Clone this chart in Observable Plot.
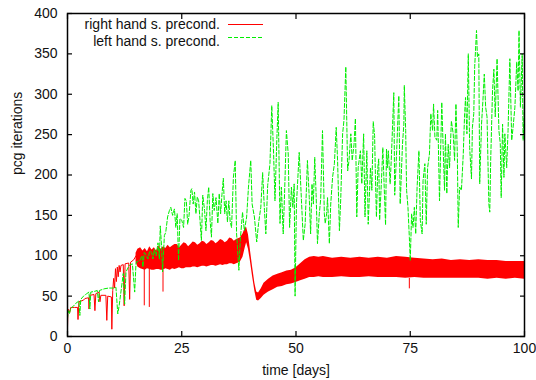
<!DOCTYPE html>
<html><head><meta charset="utf-8">
<script src="https://cdn.jsdelivr.net/npm/d3@7"></script>
<script src="https://cdn.jsdelivr.net/npm/@observablehq/plot@0.6"></script>
<style>
body{margin:0;background:#fff;}
#wrap{position:relative;width:536px;height:380px;font-family:"Liberation Sans",Arial,sans-serif;}
#legend{position:absolute;left:0;top:0;width:300px;height:50px;font-size:14px;line-height:16px;color:#111;}
#legend .row{position:absolute;right:80px;white-space:nowrap;}
#legend svg{position:absolute;left:0;top:0;}
</style></head><body><div id="wrap"></div>
<script>
// axis ticks
const xTicks = [0, 25, 50, 75, 100];
const yTicks = [0, 50, 100, 150, 200, 250, 300, 350, 400];
const seriesNames = ["right hand s. precond.", "left hand s. precond."];
const seriesColors = ["#ff0000", "#00ee00"];

// right hand preconditioning: sparse early part [day, iterations]
const redEarly = [[0.0,11],[0.1,34],[0.5,30],[0.7,36],[1.5,36],[2.2,36],[2.3,21],[2.5,43],[3.5,45],[3.8,47],[4.6,48],[4.7,34],[4.9,51],[5.8,52],[6.0,32],[6.2,53],[6.9,55],[7.1,43],[7.3,51],[8.4,51],[8.6,20],[8.8,50],[9.6,49],[9.7,9],[9.9,57],[10.1,72],[10.3,60],[10.5,84],[10.7,68],[10.9,86],[11.1,74],[11.3,88],[11.5,80],[11.7,88],[12.2,89],[12.4,38],[12.6,90],[13.4,91],[13.6,46],[13.8,92],[14.5,95],[15.0,100]];
// right hand preconditioning: dense oscillation band [day, low, high]
const redBand = [[15.0,92,103],[15.4,86,108],[16,84,110],[16.5,83,106],[17,82,109],[17.5,84,105],[18,83,111],[18.5,82,107],[19,82,110],[19.5,83,106],[20,83,112],[20.5,82,108],[21,82,111],[21.5,84,109],[22,83,113],[22.5,82,110],[23,84,112],[23.5,83,114],[24,84,114],[24.5,85,110],[25,84,113],[25.5,84,116],[26,85,115],[26.5,85,111],[27,85,114],[27.5,86,117],[28,86,116],[28.5,85,113],[29,86,115],[29.5,87,118],[30,87,117],[30.5,86,114],[31,87,116],[31.5,88,119],[32,88,118],[32.5,87,115],[33,88,117],[33.5,89,120],[34,88,119],[34.5,89,116],[35,89,118],[35.5,90,122],[36,90,121],[36.5,89,118],[37,90,120],[37.8,92,122],[38.4,98,127],[38.9,110,134],[39.2,116,135],[39.6,108,126],[40.0,94,108],[40.5,74,86],[41.0,56,66],[41.4,45,55],[41.8,44,54],[42.4,47,59],[43.0,51,66],[44.0,55,71],[45.0,58,75],[46.0,61,77],[47.0,62,79],[48.0,64,81],[49.0,65,82],[50.0,67,85],[51.0,69,90],[52.0,71,95],[53.0,73,98],[54,73,99],[55,74,98],[56,73,99],[58,73,97],[60,74,98],[62,73,97],[64,73,98],[66,74,97],[68,73,98],[70,73,97],[72,73,99],[74,72,98],[76,73,97],[78,72,96],[80,72,95],[82,72,96],[84,72,94],[86,72,95],[88,72,94],[90,72,95],[92,71,94],[94,72,94],[96,71,93],[98,72,93],[100,71,93]];
// isolated downward dips inside the band [day, min, band low]
const redDips = [[16.8,38,84],[17.9,36,83],[20.9,55,82],[74.8,59,72]];

// left hand preconditioning [day, iterations]
const green = [[0,22],[0.15,32],[0.4,28],[0.7,35],[1.2,37],[1.8,41],[2.5,44],[2.7,26],[2.9,46],[3.5,50],[4.2,53],[4.7,55],[4.9,34],[5.1,55],[6.0,56],[6.5,57],[6.8,43],[7.0,57],[8.0,59],[9.0,60],[10.0,60],[10.6,61],[11.0,28],[11.3,38],[11.8,60],[12.2,78],[12.5,40],[12.8,80],[13.5,88],[14.2,90],[14.7,55],[15.0,92],[15.8,94],[16.3,100],[16.5,86],[16.8,104],[17.3,100],[17.6,96],[18.0,106],[18.4,104],[18.7,96],[19.0,108],[19.4,100],[19.8,116],[20.1,96],[20.3,137],[20.6,110],[20.8,80],[21.2,125],[21.5,129],[21.9,148],[22.3,156],[22.6,160],[23.0,150],[23.4,158],[23.7,135],[24.0,152],[24.3,94],[24.6,146],[25.0,144],[25.4,135],[25.7,171],[26.0,168],[26.3,139],[26.6,150],[27.0,181],[27.2,183],[27.5,164],[27.8,179],[28.1,152],[28.4,173],[28.7,168],[29.3,119],[29.6,175],[30.0,156],[30.3,131],[30.6,168],[30.9,185],[31.2,144],[31.5,123],[31.8,177],[32.1,156],[32.5,172],[32.9,140],[33.2,177],[33.5,152],[33.8,176],[34.1,196],[34.4,152],[34.7,168],[35.0,142],[35.3,168],[35.6,142],[35.9,135],[36.3,197],[36.7,218],[37.0,127],[37.2,111],[37.5,82],[37.8,119],[38.3,154],[38.7,131],[39.2,148],[39.6,185],[40.1,218],[40.4,164],[40.9,148],[41.4,117],[41.8,140],[42.3,160],[42.7,203],[43.1,156],[43.4,127],[43.8,187],[44.3,214],[44.7,286],[45.1,226],[45.4,168],[45.8,243],[46.1,290],[46.5,140],[46.8,185],[47.2,127],[47.5,177],[47.9,255],[48.3,226],[48.6,135],[49.0,185],[49.3,160],[49.6,189],[49.8,50],[50.1,164],[50.7,228],[51.2,168],[51.6,119],[52.0,139],[52.5,218],[52.9,172],[53.2,127],[53.5,189],[53.8,164],[54.1,222],[54.4,176],[54.7,115],[55.1,152],[55.4,170],[55.8,255],[56.2,152],[56.4,140],[56.7,152],[56.9,172],[57.3,115],[57.6,164],[58.0,197],[58.4,214],[58.8,259],[59.1,218],[59.5,131],[59.8,172],[60.2,251],[60.5,268],[60.9,334],[61.3,205],[61.6,218],[62.0,251],[62.3,218],[62.7,238],[63.0,270],[63.3,148],[63.6,209],[64.1,230],[64.4,189],[64.8,251],[65.1,148],[65.5,230],[65.8,139],[66.3,209],[66.6,181],[66.9,266],[67.2,249],[67.4,193],[67.6,148],[67.9,209],[68.1,220],[68.3,144],[68.7,193],[69.0,234],[69.3,185],[69.6,138],[69.8,232],[70.0,209],[70.2,230],[70.6,189],[70.9,226],[71.4,302],[71.6,175],[72.0,226],[72.5,298],[72.8,164],[73.3,238],[73.6,263],[73.7,311],[74.0,255],[74.2,181],[74.5,160],[74.8,123],[75.0,94],[75.3,152],[75.6,135],[75.9,160],[76.2,127],[76.5,185],[76.9,230],[77.2,144],[77.6,127],[77.8,193],[78.2,214],[78.5,139],[78.8,209],[79.2,226],[79.5,276],[79.9,255],[80.1,288],[80.4,247],[80.8,243],[81.0,280],[81.4,168],[81.6,218],[81.9,290],[82.2,234],[82.5,181],[82.7,251],[83.0,177],[83.3,238],[83.6,209],[84.0,267],[84.4,251],[84.7,218],[85.0,288],[85.3,226],[85.5,135],[85.8,185],[86.2,181],[86.6,226],[86.9,276],[87.1,296],[87.4,251],[87.7,350],[88.0,234],[88.4,195],[88.6,259],[88.9,276],[89.1,334],[89.5,379],[89.7,346],[90.0,350],[90.2,189],[90.6,263],[90.9,292],[91.2,325],[91.5,284],[91.8,272],[92.2,164],[92.4,154],[92.6,218],[93.0,304],[93.3,331],[93.6,272],[94.0,344],[94.4,255],[94.7,239],[94.9,172],[95.2,263],[95.5,197],[95.7,251],[96.1,209],[96.4,255],[96.8,344],[97.2,243],[97.5,259],[97.9,284],[98.3,340],[98.6,304],[98.8,379],[99.1,284],[99.5,350],[99.7,243],[100,290]];

const font = "Liberation Sans, Arial, sans-serif";
const tickLen = 5;
const chart = Plot.plot({
  width: 536, height: 380,
  marginLeft: 67, marginRight: 12, marginTop: 13, marginBottom: 44,
  style: {fontFamily: font, fontSize: "14px", background: "#fff", color: "#111", overflow: "visible"},
  x: {domain: [0, 100]},
  y: {domain: [0, 400]},
  marks: [
    Plot.areaY(redBand, {x: d => d[0], y1: d => d[1], y2: d => d[2], fill: seriesColors[0], curve: "linear"}),
    Plot.line(redEarly, {x: d => d[0], y: d => d[1], stroke: seriesColors[0], strokeWidth: 1}),
    Plot.ruleX(redDips, {x: d => d[0], y1: d => d[1], y2: d => d[2], stroke: seriesColors[0], strokeWidth: 1}),
    Plot.line(green, {x: d => d[0], y: d => d[1], stroke: seriesColors[1], strokeWidth: 1, strokeDasharray: "4,2"}),
    Plot.frame({stroke: "#000", strokeWidth: 1.5}),
    // tick labels
    Plot.axisX(xTicks, {anchor: "bottom", tickSize: 0, tickPadding: 7, label: null, fontSize: 14}),
    Plot.axisY(yTicks, {anchor: "left", tickSize: 0, tickPadding: 10, label: null, fontSize: 14}),
    // inward tick marks on all four sides
    Plot.axisX(xTicks, {anchor: "bottom", tickSize: tickLen, dy: -tickLen, text: null, tickFormat: () => "", label: null, stroke: "#000", strokeWidth: 1.2}),
    Plot.axisX(xTicks, {anchor: "top", tickSize: tickLen, dy: tickLen, text: null, tickFormat: () => "", label: null, stroke: "#000", strokeWidth: 1.2}),
    Plot.axisY(yTicks, {anchor: "left", tickSize: tickLen, dx: tickLen, text: null, tickFormat: () => "", label: null, stroke: "#000", strokeWidth: 1.2}),
    Plot.axisY(yTicks, {anchor: "right", tickSize: tickLen, dx: -tickLen, text: null, tickFormat: () => "", label: null, stroke: "#000", strokeWidth: 1.2}),
    Plot.text(["time [days]"], {frameAnchor: "bottom", dy: 38, fontSize: 14, fill: "#111"}),
    Plot.text(["pcg iterations"], {frameAnchor: "left", dx: -50, rotate: -90, fontSize: 14, fill: "#111"})
  ]
});
const wrap = document.getElementById("wrap");
wrap.appendChild(chart);

// legend (top left inside the frame, as in the original)
const leg = document.createElement("div");
leg.id = "legend";
leg.innerHTML =
  `<div class="row" style="top:16px">${seriesNames[0]}</div>` +
  `<div class="row" style="top:33px">${seriesNames[1]}</div>` +
  `<svg width="300" height="50"><line x1="228" x2="263" y1="24.5" y2="24.5" stroke="${seriesColors[0]}" stroke-width="1"/>` +
  `<line x1="228" x2="263" y1="37.5" y2="37.5" stroke="${seriesColors[1]}" stroke-width="1" stroke-dasharray="4,2"/></svg>`;
wrap.appendChild(leg);
</script></body></html>
